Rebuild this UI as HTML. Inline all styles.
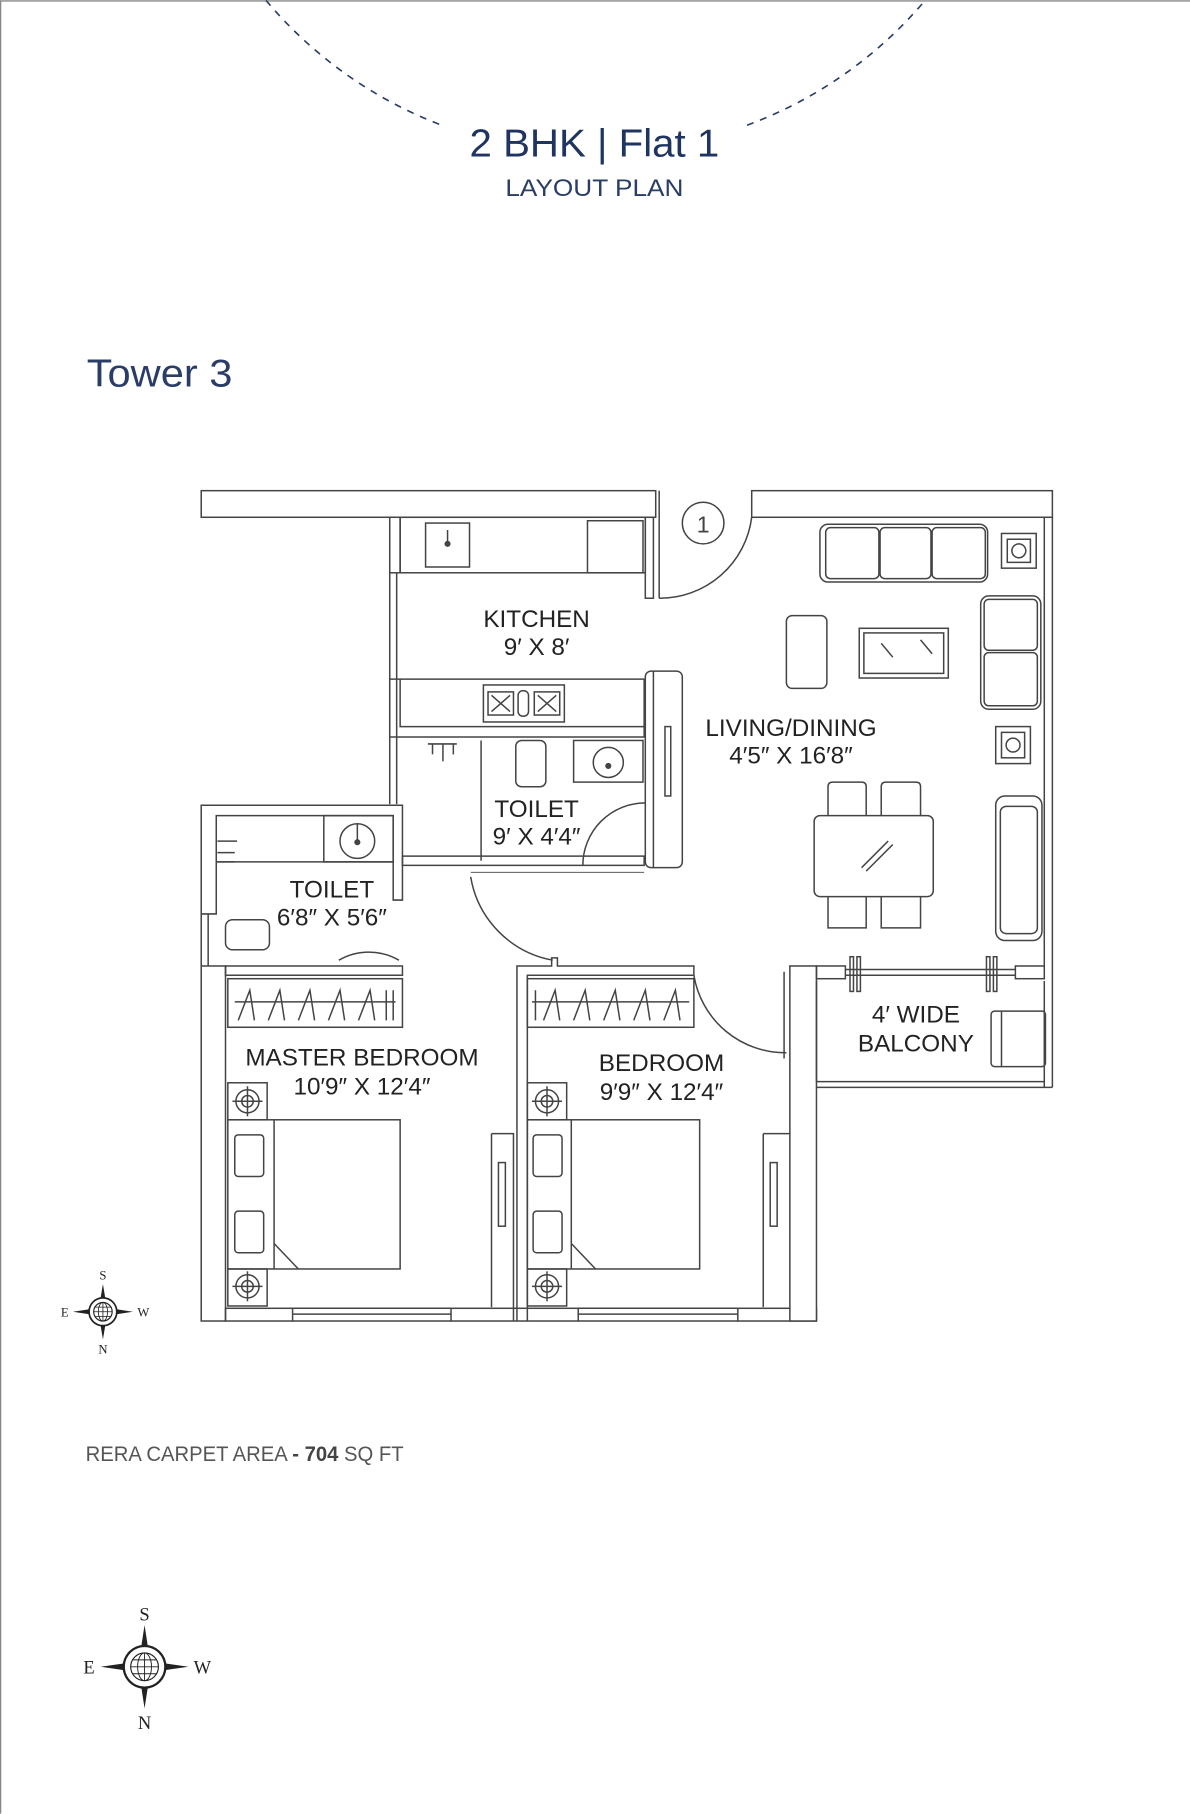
<!DOCTYPE html>
<html><head><meta charset="utf-8"><style>
html,body{margin:0;padding:0;background:#fff}
svg{display:block}
</style></head><body>
<svg width="1190" height="1814" viewBox="0 0 1029 1568" xmlns="http://www.w3.org/2000/svg" font-family="Liberation Sans, sans-serif">
<rect x="0" y="0" width="1029" height="1568" fill="#fff"/>
<line x1="0" y1="0.5" x2="1029" y2="0.5" stroke="#888" stroke-width="1.2"/>
<line x1="0.5" y1="0" x2="0.5" y2="1568" stroke="#888" stroke-width="1.2"/>
<!-- dashed arc -->
<g fill="none" stroke="#2a3d66" stroke-width="1.4" stroke-dasharray="6,6">
<path d="M230,0 A369,369 0 0 0 382,108"/>
<path d="M646,108 A369,369 0 0 0 800,0"/>
</g>
<text x="514" y="135" text-anchor="middle" font-size="34" fill="#1f3461" textLength="216" lengthAdjust="spacingAndGlyphs">2 BHK | Flat 1</text>
<text x="514" y="169" text-anchor="middle" font-size="21" fill="#2a3d66" textLength="154" lengthAdjust="spacingAndGlyphs">LAYOUT PLAN</text>
<text x="75" y="334" font-size="34" fill="#2a3d66" textLength="126" lengthAdjust="spacingAndGlyphs">Tower 3</text>

<g fill="none" stroke="#444" stroke-width="1.3">
<!-- top walls -->
<rect x="174" y="424" width="393" height="23"/>
<rect x="650" y="424" width="260" height="23"/>
<line x1="570" y1="424" x2="570" y2="517"/>
<!-- right outer wall -->
<line x1="903" y1="447" x2="903" y2="835"/>
<line x1="910" y1="447" x2="910" y2="940"/>
<line x1="903" y1="848" x2="903" y2="940"/>
<!-- kitchen top -->
<rect x="337" y="447" width="9" height="48" fill="#fff"/>
<rect x="346" y="447" width="212" height="48"/>
<rect x="368" y="452" width="38" height="38"/>
<circle cx="387" cy="470" r="2" fill="#444"/>
<line x1="387" y1="458" x2="387" y2="470"/>
<rect x="508" y="450" width="48" height="45"/>
<rect x="558" y="447" width="7" height="70"/>
<!-- entry door -->
<path d="M570,517 A80,80 0 0 0 650,447"/>
<circle cx="608" cy="452" r="18"/>
<!-- corridor double line -->
<line x1="337" y1="495" x2="337" y2="695"/>
<line x1="343" y1="495" x2="343" y2="695"/>
<!-- kitchen lower counter -->
<path d="M337,587 H557 V637 H337 Z" stroke-width="1.3"/>
<path d="M346,587 V628 H557" />
<rect x="418" y="592" width="70" height="32"/>
<rect x="422" y="598" width="22" height="20"/><rect x="462" y="598" width="22" height="20"/>
<rect x="448" y="597" width="9" height="22" rx="4"/>
<line x1="425" y1="601" x2="441" y2="615"/><line x1="441" y1="601" x2="425" y2="615"/>
<line x1="465" y1="601" x2="481" y2="615"/><line x1="481" y1="601" x2="465" y2="615"/>
<!-- column -->
<rect x="558" y="580" width="32" height="170" rx="5"/>
<line x1="565" y1="580" x2="565" y2="750"/>
<rect x="575" y="628" width="5" height="60"/>
<!-- toilet 1 -->
<line x1="416" y1="640" x2="416" y2="744"/>
<rect x="446" y="640" width="26" height="40" rx="5"/>
<rect x="496" y="640" width="60" height="36"/>
<circle cx="526" cy="659" r="13"/><circle cx="526" cy="662" r="2" fill="#444"/>
<line x1="370" y1="643" x2="395" y2="643"/><line x1="383" y1="643" x2="383" y2="658"/><line x1="374" y1="643" x2="374" y2="652"/><line x1="392" y1="643" x2="392" y2="652"/>
<rect x="348" y="740" width="209" height="8"/>
<path d="M504,748 A54,54 0 0 1 558,694"/>
<path d="M407,758 A88,88 0 0 0 478,830"/>
<line x1="407" y1="754" x2="557" y2="754" stroke-width="0.8"/>
<!-- small toilet -->
<path d="M174,696 H348 V778 H340 V705 H187 V790 H174 Z"/>
<rect x="280" y="705" width="60" height="40"/>
<circle cx="309" cy="727" r="15"/><circle cx="309" cy="728" r="2" fill="#444"/>
<line x1="309" y1="712" x2="309" y2="727"/>
<line x1="187" y1="745" x2="340" y2="745"/>
<line x1="188" y1="727" x2="205" y2="727"/><line x1="188" y1="737" x2="203" y2="737"/><line x1="188" y1="745" x2="203" y2="745"/>
<rect x="195" y="795" width="38" height="26" rx="6"/>
<line x1="174" y1="790" x2="174" y2="835"/><line x1="180" y1="790" x2="180" y2="835"/>
<path d="M293,830 A52,52 0 0 1 345,830"/>
<!-- master bedroom -->
<rect x="174" y="835" width="21" height="307" fill="#fff"/>
<rect x="195" y="835" width="153" height="8"/>
<rect x="197" y="846" width="151" height="42"/>
<line x1="203" y1="866" x2="342" y2="866"/>
<path d="M206,882 L216,856 L220,882 M232,882 L242,856 L246,882 M258,882 L268,856 L272,882 M284,882 L294,856 L298,882 M310,882 L320,856 L324,882 M334,856 V882 M340,856 V882" />
<rect x="197" y="936" width="34" height="32"/>
<circle cx="214" cy="952" r="10"/><circle cx="214" cy="952" r="5"/>
<line x1="201" y1="952" x2="227" y2="952"/><line x1="214" y1="939" x2="214" y2="965"/>
<rect x="197" y="968" width="149" height="129"/>
<line x1="237" y1="968" x2="237" y2="1097"/>
<rect x="203" y="981" width="25" height="36" rx="3"/>
<rect x="203" y="1047" width="25" height="36" rx="3"/>
<path d="M237,1075 L258,1097"/>
<rect x="197" y="1097" width="34" height="32"/>
<circle cx="214" cy="1112" r="10"/><circle cx="214" cy="1112" r="5"/>
<line x1="201" y1="1112" x2="227" y2="1112"/><line x1="214" y1="1099" x2="214" y2="1125"/>
<rect x="195" y="1131" width="58" height="11"/>
<line x1="253" y1="1131" x2="390" y2="1131"/><line x1="253" y1="1136" x2="390" y2="1136"/><line x1="253" y1="1142" x2="390" y2="1142"/>
<rect x="390" y="1131" width="110" height="11"/>
<path d="M425,980 H444 V1142 M425,980 V1130" />
<rect x="431" y="1005" width="6" height="55"/>
<!-- bedroom 2 -->
<path d="M447,1142 V835 H477 V828 H482 V835 H600 V843 H456 V1142"/>
<rect x="456" y="846" width="144" height="42"/>
<line x1="460" y1="866" x2="596" y2="866"/>
<path d="M463,882 V856 M470,882 L480,856 L484,882 M496,882 L506,856 L510,882 M522,882 L532,856 L536,882 M548,882 L558,856 L562,882 M574,882 L584,856 L588,882" />
<rect x="456" y="936" width="34" height="32"/>
<circle cx="473" cy="952" r="10"/><circle cx="473" cy="952" r="5"/>
<line x1="460" y1="952" x2="486" y2="952"/><line x1="473" y1="939" x2="473" y2="965"/>
<rect x="456" y="968" width="149" height="129"/>
<line x1="494" y1="968" x2="494" y2="1097"/>
<rect x="461" y="981" width="25" height="36" rx="3"/>
<rect x="461" y="1047" width="25" height="36" rx="3"/>
<path d="M494,1075 L515,1097"/>
<rect x="456" y="1097" width="34" height="32"/>
<circle cx="473" cy="1112" r="10"/><circle cx="473" cy="1112" r="5"/>
<line x1="460" y1="1112" x2="486" y2="1112"/><line x1="473" y1="1099" x2="473" y2="1125"/>
<line x1="500" y1="1131" x2="638" y2="1131"/><line x1="500" y1="1136" x2="638" y2="1136"/><line x1="500" y1="1142" x2="638" y2="1142"/>
<rect x="638" y="1131" width="68" height="11"/>
<path d="M660,980 V1130 M660,980 H683"/>
<rect x="666" y="1005" width="6" height="55"/>
<path d="M600,843 A80,80 0 0 0 680,910"/>
<rect x="683" y="835" width="23" height="307" fill="#fff"/>
<line x1="678" y1="840" x2="678" y2="915"/>
<!-- balcony -->
<rect x="706" y="835" width="25" height="11"/>
<rect x="878" y="835" width="25" height="11"/>
<line x1="731" y1="838" x2="878" y2="838"/><line x1="731" y1="843" x2="878" y2="843"/>
<rect x="735" y="827" width="3" height="30"/><rect x="741" y="827" width="3" height="30"/>
<rect x="853" y="827" width="3" height="30"/><rect x="859" y="827" width="3" height="30"/>
<line x1="706" y1="935" x2="903" y2="935"/><line x1="706" y1="940" x2="910" y2="940"/>
<rect x="857" y="874" width="47" height="48" rx="3"/>
<line x1="866" y1="874" x2="866" y2="922"/>
<!-- living furniture -->
<rect x="709" y="453" width="145" height="50" rx="7"/>
<rect x="714" y="456" width="46" height="44" rx="4"/><rect x="761" y="456" width="44" height="44" rx="4"/><rect x="806" y="456" width="46" height="44" rx="4"/>
<rect x="866" y="461" width="30" height="30"/><rect x="871" y="466" width="20" height="20"/><circle cx="881" cy="476" r="6"/>
<rect x="848" y="515" width="52" height="98" rx="7"/>
<rect x="851" y="518" width="46" height="44" rx="4"/><rect x="851" y="564" width="46" height="46" rx="4"/>
<rect x="680" y="532" width="35" height="63" rx="5"/>
<rect x="743" y="543" width="77" height="43"/><rect x="747" y="547" width="69" height="35"/>
<line x1="762" y1="556" x2="772" y2="568"/><line x1="796" y1="553" x2="806" y2="565"/>
<rect x="861" y="628" width="30" height="32"/><rect x="866" y="633" width="20" height="22"/><circle cx="876" cy="644" r="6"/>
<rect x="861" y="688" width="40" height="125" rx="8"/><rect x="865" y="697" width="32" height="110" rx="5"/>
<rect x="704" y="705" width="103" height="70" rx="5"/>
<path d="M716,705 V680 Q716,676 720,676 H745 Q749,676 749,680 V705 M762,705 V680 Q762,676 766,676 H792 Q796,676 796,680 V705"/>
<path d="M716,775 V802 H749 V775 M762,775 V802 H796 V775"/>
<line x1="745" y1="750" x2="768" y2="727"/><line x1="749" y1="753" x2="772" y2="730"/>
<line x1="706" y1="848" x2="706" y2="935"/>
</g>
<g fill="#222" font-size="21" text-anchor="middle">
<text x="464" y="542">KITCHEN</text>
<text x="464" y="566">9′ X 8′</text>
<text x="684" y="636">LIVING/DINING</text>
<text x="684" y="660">4′5″ X 16′8″</text>
<text x="464" y="706">TOILET</text>
<text x="464" y="730">9′ X 4′4″</text>
<text x="287" y="776">TOILET</text>
<text x="287" y="800">6′8″ X 5′6″</text>
<text x="313" y="921">MASTER BEDROOM</text>
<text x="313" y="946">10′9″ X 12′4″</text>
<text x="572" y="926">BEDROOM</text>
<text x="572" y="951">9′9″ X 12′4″</text>
<text x="792" y="884">4′ WIDE</text>
<text x="792" y="909">BALCONY</text>
<text x="608" y="460" font-size="20" fill="#444">1</text>
</g>
<text x="74" y="1263" font-size="18" fill="#555" textLength="275" lengthAdjust="spacingAndGlyphs">RERA CARPET AREA <tspan font-weight="bold" fill="#444">- 704</tspan> SQ FT</text>
<!-- compasses -->
<g font-family="Liberation Serif, serif" fill="#222" text-anchor="middle">
<g transform="translate(89,1134)">
<path d="M0,-24 L3,-6 L0,0 L-3,-6Z M0,24 L3,6 L0,0 L-3,6Z M-26,0 L-6,-3 L0,0 L-6,3Z M26,0 L6,-3 L0,0 L6,3Z" fill="#222"/>
<circle r="12" fill="#fff" stroke="#222" stroke-width="1.5"/><circle r="8" fill="none" stroke="#222"/>
<path d="M-8,0H8M0,-8V8M-7,-4H7M-7,4H7" stroke="#222" stroke-width="0.7"/><ellipse rx="4" ry="8" fill="none" stroke="#222" stroke-width="0.7"/>
<text y="-28" font-size="11">S</text><text y="36" font-size="11">N</text><text x="-33" y="4" font-size="11">E</text><text x="35" y="4" font-size="11">W</text>
</g>
<g transform="translate(125,1441)">
<path d="M0,-36 L4,-10 L0,0 L-4,-10Z M0,36 L4,10 L0,0 L-4,10Z M-38,0 L-10,-4 L0,0 L-10,4Z M38,0 L10,-4 L0,0 L10,4Z" fill="#222"/>
<circle r="18" fill="#fff" stroke="#222" stroke-width="2"/><circle r="12" fill="none" stroke="#222"/>
<path d="M-12,0H12M0,-12V12M-10,-6H10M-10,6H10" stroke="#222" stroke-width="0.8"/><ellipse rx="6" ry="12" fill="none" stroke="#222" stroke-width="0.8"/>
<text y="-40" font-size="16">S</text><text y="54" font-size="16">N</text><text x="-48" y="6" font-size="16">E</text><text x="50" y="6" font-size="16">W</text>
</g>
</g>
</svg>
</body></html>
